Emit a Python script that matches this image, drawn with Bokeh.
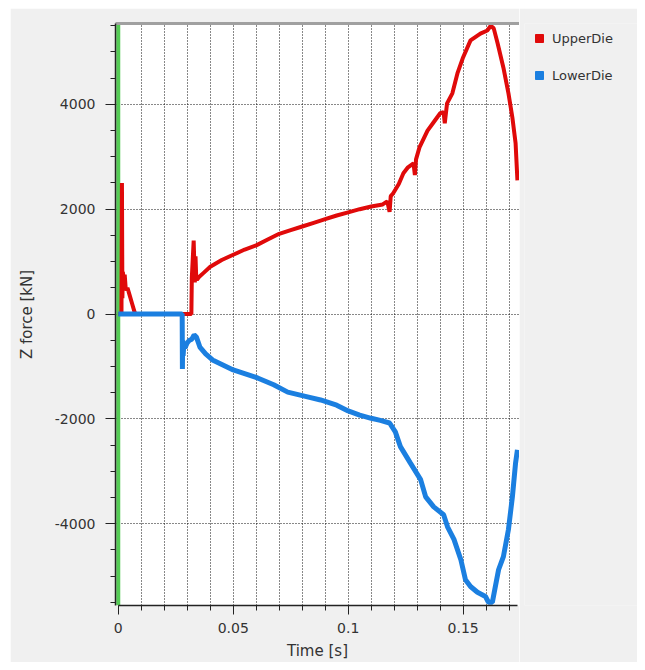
from bokeh.plotting import figure
from bokeh.layouts import row
from bokeh.models import (FixedTicker, NumeralTickFormatter, LinearAxis, Span,
                          Legend, LegendItem, Range1d)
from bokeh.embed import file_html
from bokeh.resources import INLINE

# ---- data ----
upper_t = [0, 0.0014, 0.0016, 0.0018, 0.002, 0.0024, 0.0028, 0.0033, 0.004, 0.005,
           0.006, 0.007, 0.0075, 0.0318, 0.032, 0.0328, 0.0333, 0.0336, 0.0339, 0.0342,
           0.035, 0.037, 0.040, 0.045, 0.050, 0.055, 0.060, 0.065, 0.070, 0.075,
           0.080, 0.085, 0.090, 0.095, 0.100, 0.105, 0.110, 0.115, 0.117, 0.118,
           0.1185, 0.1195, 0.122, 0.124, 0.126, 0.1284, 0.129, 0.1295, 0.131, 0.1345,
           0.137, 0.140, 0.1415, 0.142, 0.143, 0.1453, 0.1475, 0.150, 0.1532, 0.1575,
           0.1605, 0.162, 0.1633, 0.165, 0.1675, 0.1697, 0.1714, 0.1728, 0.1736]
upper_f = [0, 0, 2500, 300, 800, 650, 750, 450, 500, 350,
           200, 50, 0, 0, 700, 1400, 600, 1100, 700, 650,
           700, 780, 900, 1030, 1130, 1230, 1310, 1420, 1530, 1600,
           1670, 1740, 1810, 1880, 1940, 2000, 2050, 2090, 2150, 1950,
           2250, 2300, 2480, 2686, 2800, 2876, 2650, 2950, 3180, 3500,
           3650, 3830, 3850, 3640, 4020, 4210, 4590, 4900, 5220, 5350,
           5410, 5500, 5450, 5160, 4700, 4210, 3750, 3260, 2550]

lower_t = [0, 0.0278, 0.0279, 0.028, 0.0282, 0.0285, 0.029, 0.030, 0.031, 0.032,
           0.033, 0.034, 0.0355, 0.038, 0.041, 0.050, 0.0606, 0.0676, 0.0737, 0.0823,
           0.088, 0.095, 0.100, 0.105, 0.110, 0.114, 0.118, 0.1205, 0.1227, 0.127,
           0.1315, 0.1337, 0.1372, 0.1415, 0.1432, 0.146, 0.149, 0.151, 0.1532, 0.1562,
           0.1597, 0.161, 0.1627, 0.164, 0.1654, 0.1675, 0.1697, 0.1714, 0.1728, 0.1736]
lower_f = [0, 0, -1050, -500, -800, -600, -650, -550, -500, -480,
           -400, -440, -630, -760, -876, -1067, -1220, -1350, -1490, -1580,
           -1640, -1740, -1850, -1930, -1990, -2030, -2080, -2250, -2530, -2840,
           -3160, -3490, -3680, -3830, -4060, -4300, -4690, -5070, -5200, -5310,
           -5390, -5500, -5500, -5200, -4880, -4630, -4110, -3490, -2840, -2590]

series_names = ["UpperDie", "LowerDie"]

x_major = [0, 0.05, 0.1, 0.15]
x_minor = [round(0.01 * i, 2) for i in range(0, 18)]
x_grid = [round(0.01 * i, 2) for i in range(1, 18)]
y_major = [-4000, -2000, 0, 2000, 4000]
y_minor = list(range(-5500, 5501, 500))

RED = "#e00a0a"
BLUE = "#1b7fe0"
GREEN = "#55cc55"
BG = "#f0f0f0"
FONT = "DejaVu Sans"

p = figure(width=509, height=654, output_backend="svg", toolbar_location=None,
           x_range=Range1d(-0.0012, 0.1745), y_range=Range1d(-5562, 5543),
           min_border_left=105, min_border_right=0, min_border_top=15,
           min_border_bottom=56, background_fill_color="white",
           border_fill_color=BG, outline_line_color=None)

# grids
p.xgrid.ticker = FixedTicker(ticks=x_grid)
p.ygrid.ticker = FixedTicker(ticks=y_major)
for g in (p.xgrid, p.ygrid):
    g.grid_line_color = "#111111"
    g.grid_line_dash = "1 2"
    g.grid_line_width = 1

# axes
xa = p.xaxis[0]
xa.ticker = FixedTicker(ticks=x_major, minor_ticks=x_minor)
xa.formatter = NumeralTickFormatter(format="0.[00]")
xa.bounds = (0, 0.1736)
xa.axis_label = "Time [s]"
ya = p.yaxis[0]
ya.ticker = FixedTicker(ticks=y_major, minor_ticks=y_minor)
ya.formatter = NumeralTickFormatter(format="0")
ya.axis_label = "Z force [kN]"
for a in (xa, ya):
    a.axis_line_color = "#222222"
    a.axis_line_width = 1.5
    a.major_tick_line_color = "#222222"
    a.minor_tick_line_color = "#222222"
    a.major_tick_in = 0
    a.minor_tick_in = 0
    a.major_label_text_font = FONT
    a.major_label_text_font_size = "14px"
    a.major_label_text_color = "#333333"
    a.axis_label_text_font = FONT
    a.axis_label_text_font_size = "15px"
    a.axis_label_text_font_style = "normal"
    a.axis_label_text_color = "#333333"
xa.major_tick_out = 9
xa.minor_tick_out = 5
xa.major_label_standoff = 8
xa.axis_label_standoff = 6
ya.major_tick_out = 10
ya.minor_tick_out = 5
ya.major_label_standoff = 10
ya.axis_label_standoff = 16

top = LinearAxis(ticker=FixedTicker(ticks=[]), axis_line_color="#a0a0a0",
                 axis_line_width=3, major_tick_line_color=None,
                 minor_tick_line_color=None, major_label_text_font_size="0px")
p.add_layout(top, "above")

p.add_layout(Span(location=0, dimension="height", line_color=GREEN,
                  line_width=4, level="underlay"))

p.line(upper_t, upper_f, line_color=RED, line_width=4)
p.line(lower_t, lower_f, line_color=BLUE, line_width=5)

# legend panel on the right (its key markers sit outside its visible range)
p2 = figure(width=118, height=654, output_backend="svg", toolbar_location=None,
            x_range=Range1d(10, 11), y_range=Range1d(1e6, 1e6 + 1),
            min_border_left=5, min_border_right=0, min_border_top=15,
            min_border_bottom=56, background_fill_color=BG,
            border_fill_color=BG, outline_line_color=None)
p2.axis.visible = False
p2.grid.visible = False
key_u = p2.scatter(x=upper_t[:1], y=upper_f[:1], marker="square", size=9,
                   color=RED)
key_l = p2.scatter(x=lower_t[:1], y=lower_f[:1], marker="square", size=9,
                   color=BLUE)
legend = Legend(items=[LegendItem(label=series_names[0], renderers=[key_u]),
                       LegendItem(label=series_names[1], renderers=[key_l])],
                location="top_left", border_line_color=None,
                background_fill_alpha=0, padding=0, margin=5, spacing=17,
                glyph_width=20, glyph_height=20, label_standoff=3,
                label_text_font=FONT, label_text_font_size="13px",
                label_text_color="#333333", label_height=20)
p2.add_layout(legend, "center")

layout = row(p, p2, spacing=0)
layout.margin = (8, 8, 8, 10)

open("out.html", "w").write(file_html(layout, INLINE))
